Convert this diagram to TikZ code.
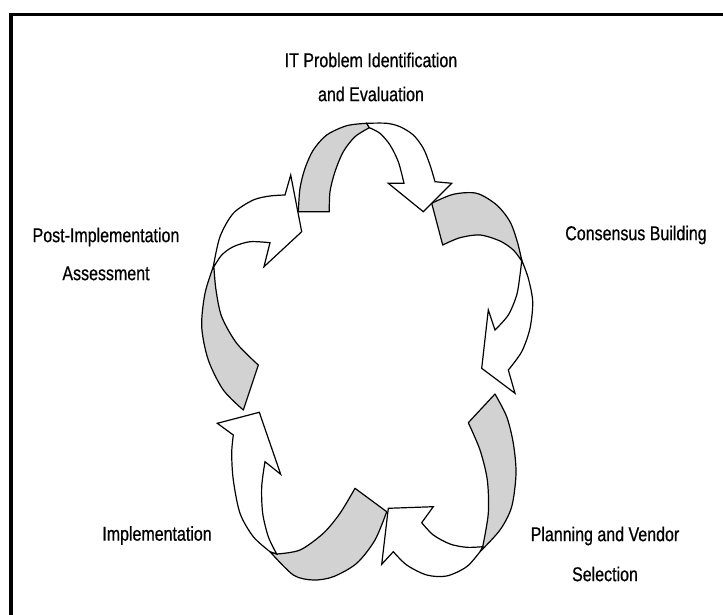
\documentclass[tikz,border=0pt]{standalone}
\usepackage{fontspec}
\setmainfont{Liberation Sans}[FakeStretch=0.8,FakeBold=0.6]
\begin{document}
\begin{tikzpicture}[x=1pt,y=-1pt]
\tikzstyle{back}=[draw,fill=gray!35,line width=1.2pt,line join=round]
\tikzstyle{front}=[draw,fill=white,line width=1.2pt,line join=miter]
\tikzstyle{lbl}=[align=center,inner sep=0pt,font=\fontsize{20}{34}\selectfont]
\useasboundingbox (0,0) rectangle (723,615);
\draw[line width=3.5pt] (11,625) -- (11,14.5) -- (735,14.5);
% back sides
\path[back] plot[smooth] coordinates {(298.3,211.7) (300,188.3) (305,168.3) (313.3,150) (326.7,135) (346.7,125.7) (366.7,123.3)}
  -- plot[smooth] coordinates {(369.3,127.7) (355,136.7) (343.3,151.7) (335,171.7) (330,191.7) (329.3,211.7)} -- cycle;
\path[back] plot[smooth] coordinates {(431.7,203.3) (453.3,194.3) (476.7,193.3) (496.7,205) (510,221.7) (517.3,241.7) (521.7,260)}
  -- plot[smooth] coordinates {(521.7,261) (513.3,250) (500,241) (480,235) (460,237.7) (442.7,245)} -- cycle;
\path[back] plot[smooth] coordinates {(495,394) (506.7,416.7) (513.3,443.3) (516,473.3) (511.7,506.7) (500,530) (480,551.7)}
  -- plot[smooth] coordinates {(482.7,546.7) (488.3,513.3) (487.3,480) (480,450) (468.3,422.7)} -- cycle;
\path[back] plot[smooth] coordinates {(386.7,511.7) (375,540) (356.7,563.3) (333.3,576.7) (313.3,580) (293.3,575) (270,551.7)}
  -- plot[smooth] coordinates {(276.7,554) (300,550) (323.3,533.3) (340,513.3) (355,488.3)} -- cycle;
\path[back] plot[smooth] coordinates {(243.3,410) (223.3,390) (208.3,360) (201.7,326.7) (205,293.3) (213.3,266.7)}
  -- plot[smooth] coordinates {(214,268.3) (216,290) (221.7,316.7) (236.7,343.3) (258.3,365)} -- cycle;
% front sides with heads
\path[front] plot[smooth] coordinates {(366.7,123.3) (386.7,123.3) (400,126.7) (413.3,135) (423.3,148.3) (430,165) (435,181.7)}
  -- (451.7,183.3) -- (423.3,211.7) -- (388.3,183.3) -- (404,183.3)
  -- plot[smooth] coordinates {(404,183.3) (398.3,161.7) (390,145) (380,133.3) (369.3,127.7)} -- cycle;
\path[front] plot[smooth] coordinates {(521.7,260) (528.3,278.3) (532.7,301.7) (530,328.3) (521.7,351.7) (508.3,370)}
  -- (515,393.3) -- (481.7,368.3) -- (488.3,310) -- (495,330)
  -- plot[smooth] coordinates {(495,330) (508.3,315) (516.7,295) (520,275) (521.7,261)} -- cycle;
\path[front] plot[smooth] coordinates {(480,551.7) (466.7,566.7) (446.7,576) (426.7,575) (406.7,565) (393.3,551.7)}
  -- (381.7,564.3) -- (388.3,508.3) -- (433.3,506.7) -- (421.7,522.7)
  -- plot[smooth] coordinates {(421.7,522.7) (433.3,535) (450,544) (466.7,547.3) (482.7,546.7)} -- cycle;
\path[front] plot[smooth] coordinates {(270,551.7) (253.3,536.7) (240,513.3) (233.3,480) (231.7,453.3) (233.3,435)}
  -- (217.3,423.3) -- (259.3,412.3) -- (280.7,474.3) -- (265,461.7)
  -- plot[smooth] coordinates {(265,461.7) (261.7,486.7) (262.7,513.3) (268.3,536.7) (276.7,554)} -- cycle;
\path[front] plot[smooth] coordinates {(213.3,266.7) (220,236.7) (233.3,213.3) (253.3,200) (270,196) (285,195)}
  -- (290.7,175) -- (301.7,231.7) -- (264,266.7) -- (270,242.7)
  -- plot[smooth] coordinates {(270,242.7) (250,241.7) (233.3,246.7) (221.7,255) (214,266.7)} -- cycle;
% labels
\node[lbl] (ident) at (371,77) {IT Problem Identification\\and Evaluation};
\node[lbl] (consensus) at (636,235) {Consensus Building};
\node[lbl] (planning) at (605,554) {Planning and Vendor\\[6pt]Selection};
\node[lbl] (impl) at (157,535.5) {Implementation};
\node[lbl] (assess) at (106,254) {Post-Implementation\\[4pt]Assessment};
\end{tikzpicture}
\end{document}
